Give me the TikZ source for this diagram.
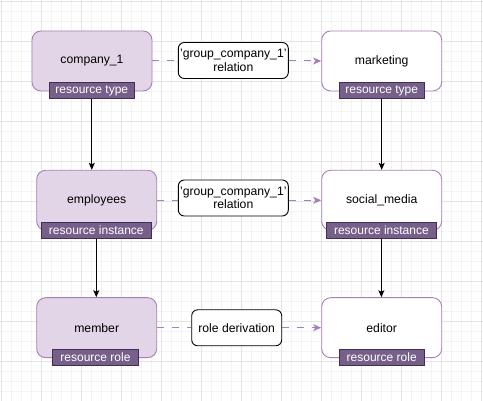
\documentclass[tikz,border=0pt]{standalone}
\usepackage{fontspec}
\setmainfont{Liberation Sans}
\usetikzlibrary{arrows.meta}
\definecolor{boxfill}{HTML}{E1D5E7}
\definecolor{boxline}{HTML}{A680B8}
\definecolor{tagfill}{HTML}{76608A}
\definecolor{tagline}{HTML}{432D57}
\definecolor{gridminor}{HTML}{F3F3F3}
\definecolor{gridmajor}{HTML}{E4E4E4}
\tikzset{
  ent/.style={draw=boxline, line width=0.9pt, rounded corners=9pt, minimum width=120pt, minimum height=60pt, inner sep=0pt, font=\fontsize{12.2}{14}\selectfont, text=black},
  entfill/.style={ent, fill=boxfill},
  entwhite/.style={ent, fill=white},
  tag/.style={draw=tagline, fill=tagfill, line width=0.8pt, text=white, minimum height=16pt, inner sep=0pt, font=\fontsize{12}{13}\selectfont},
  relbox/.style={draw=black, line width=0.9pt, fill=white, rounded corners=6pt, minimum height=36pt, inner sep=0pt, align=center, font=\fontsize{12.2}{13.5}\selectfont},
  dashline/.style={draw=boxline, line width=1pt, dash pattern=on 7pt off 8pt},
  dasharrow/.style={dashline, -{Stealth[length=8pt,width=7pt,inset=2pt]}},
  downarrow/.style={draw=black, line width=0.9pt, -{Stealth[length=7pt,width=6pt,inset=1.5pt]}}
}
\begin{document}
\begin{tikzpicture}[x=1pt,y=-1pt]
\useasboundingbox (0,0) rectangle (483,401);
\fill[white] (0,0) rectangle (483,401);
\foreach \g in {1.7,11.7,...,483} {\draw[gridminor, line width=0.6pt] (\g,0) -- (\g,401);}
\foreach \g in {1.7,11.7,...,401} {\draw[gridminor, line width=0.6pt] (0,\g) -- (483,\g);}
\foreach \g in {1.7,41.7,...,483} {\draw[gridmajor, line width=0.7pt] (\g,0) -- (\g,401);}
\foreach \g in {1.7,41.7,...,401} {\draw[gridmajor, line width=0.7pt] (0,\g) -- (483,\g);}

% row 1
\node[entfill] (c1) at (92,61) {company\_1};
\node[tag, minimum width=85pt] (t1) at (91.8,90.7) {resource type};
\node[relbox, minimum width=110pt] (r1) at (233.3,60.5) {'group\_company\_1'\\relation};
\node[entwhite] (mk) at (381.7,61) {marketing};
\node[tag, minimum width=85pt] (t2) at (381.7,90.7) {resource type};

% row 2
\node[entfill] (emp) at (96.7,200.3) {employees};
\node[tag, minimum width=110.7pt] (t3) at (96.3,230.5) {resource instance};
\node[relbox, minimum width=110pt] (r2) at (233.3,198) {'group\_company\_1'\\relation};
\node[entwhite] (sm) at (381.7,200.3) {social\_media};
\node[tag, minimum width=110.7pt] (t4) at (381.4,230.5) {resource instance};

% row 3
\node[entfill] (mem) at (96.7,327.7) {member};
\node[tag, minimum width=85.6pt] (t5) at (95.5,357.2) {resource role};
\node[relbox, minimum width=90pt] (rd) at (236.7,327.8) {role derivation};
\node[entwhite] (ed) at (381.7,327.7) {editor};
\node[tag, minimum width=85.3pt] (t6) at (381.7,357.2) {resource role};

% dashed relations
\draw[dashline] (c1.east) -- (c1.east -| r1.west);
\draw[dasharrow] (c1.east -| r1.east) -- (mk.west);
\draw[dashline] (emp.east) -- (emp.east -| r2.west);
\draw[dasharrow] (emp.east -| r2.east) -- (sm.west);
\draw[dashline] (mem.east) -- (mem.east -| rd.west);
\draw[dasharrow] (mem.east -| rd.east) -- (ed.west);

% vertical arrows
\draw[downarrow] (t1.south) -- (t1.south |- emp.north);
\draw[downarrow] (t3.south) -- (t3.south |- mem.north);
\draw[downarrow] (t2.south) -- (t2.south |- sm.north);
\draw[downarrow] (t4.south) -- (t4.south |- ed.north);
\end{tikzpicture}
\end{document}
